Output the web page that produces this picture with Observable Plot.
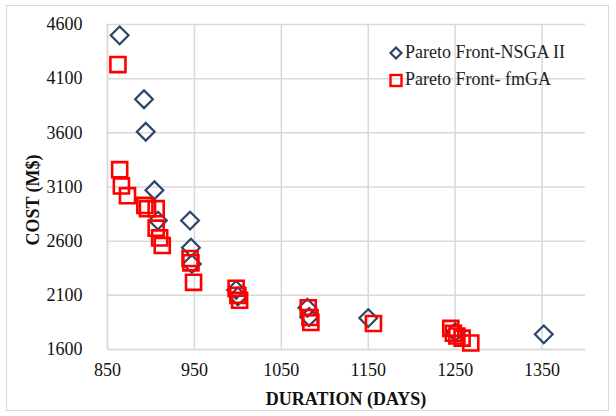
<!DOCTYPE html>
<html>
<head>
<meta charset="utf-8">
<script src="https://cdn.jsdelivr.net/npm/d3@7"></script>
<script src="https://cdn.jsdelivr.net/npm/@observablehq/plot@0.6"></script>
<style>
  html, body { margin: 0; padding: 0; background: #fff; }
  #wrap { position: relative; width: 616px; height: 416px; }
  #frame { position: absolute; left: 6px; top: 5px; width: 603px; height: 406px; border: 1.5px solid #d9d9d9; box-sizing: border-box; pointer-events: none; }
  #legend { position: absolute; left: 388px; top: 39px; font-family: "Liberation Serif", "Times New Roman", serif; font-size: 18px; color: #222; }
  #legend div { display: flex; align-items: center; height: 27px; }
  #legend svg { margin-right: 1px; }
  #chart svg text { font-family: "Liberation Serif", "Times New Roman", serif; }
</style>
</head>
<body>
<div id="wrap">
  <div id="chart"></div>
  <div id="frame"></div>
  <div id="legend">
    <div><svg width="16" height="16"><path d="M8,2.5L13.5,8L8,13.5L2.5,8Z" fill="none" stroke="#2b4566" stroke-width="2.2"/></svg>Pareto Front-NSGA II</div>
    <div><svg width="16" height="16"><rect x="2.5" y="3" width="11" height="11" fill="none" stroke="#ff0000" stroke-width="2.4"/></svg>Pareto Front- fmGA</div>
  </div>
</div>
<script>
const nsgaDuration = [864, 892, 894, 904, 908, 945, 946, 947, 998, 1000, 1080, 1082, 1150, 1250, 1352];
const nsgaCost     = [4500, 3910, 3610, 3070, 2790, 2790, 2540, 2390, 2150, 2090, 1985, 1900, 1890, 1760, 1740];

const fmgaDuration = [862, 864, 866, 873, 893, 896, 906, 906, 910, 913, 945, 946, 949, 998, 1000, 1002, 1081, 1083, 1084, 1156, 1245, 1248, 1252, 1258, 1268];
const fmgaCost     = [4230, 3260, 3110, 3020, 2930, 2900, 2900, 2720, 2630, 2560, 2440, 2400, 2220, 2165, 2100, 2055, 1985, 1895, 1850, 1840, 1795, 1750, 1725, 1705, 1660];

const xTicks = [850, 950, 1050, 1150, 1250, 1350];
const yTicks = [1600, 2100, 2600, 3100, 3600, 4100, 4600];

const nsga = nsgaDuration.map((d, i) => ({duration: d, cost: nsgaCost[i]}));
const fmga = fmgaDuration.map((d, i) => ({duration: d, cost: fmgaCost[i]}));

const serif = "'Liberation Serif', 'Times New Roman', serif";

const chart = Plot.plot({
  width: 616,
  height: 416,
  marginLeft: 107,
  marginRight: 31,
  marginTop: 24,
  marginBottom: 67,
  style: { fontFamily: serif, fontSize: "18px", color: "#111", background: "transparent" },
  x: { domain: [850, 1400], ticks: xTicks, label: null },
  y: { domain: [1600, 4600], ticks: yTicks, label: null },
  marks: [
    Plot.gridX(xTicks, { stroke: "#d9d9d9", strokeOpacity: 1, strokeWidth: 1.5 }),
    Plot.gridY(yTicks, { stroke: "#d9d9d9", strokeOpacity: 1, strokeWidth: 1.5 }),
    Plot.ruleX([850], { stroke: "#d9d9d9", strokeWidth: 1.5 }),
    Plot.ruleY([1600], { stroke: "#d9d9d9", strokeWidth: 1.5 }),
    Plot.axisX(xTicks, { tickSize: 0, tickPadding: 14, fontSize: 18, fontFamily: serif, tickFormat: d => String(d), label: null }),
    Plot.axisY(yTicks, { tickSize: 0, tickPadding: 25, fontSize: 18, fontFamily: serif, tickFormat: d => String(d), label: null }),
    Plot.dot(nsga, { x: "duration", y: "cost", symbol: "diamond2", r: 8, stroke: "#2b4566", strokeWidth: 2.2, fill: "none" }),
    Plot.dot(fmga, { x: "duration", y: "cost", symbol: "square", r: 8.5, stroke: "#ff0000", strokeWidth: 2.6, fill: "none" })
  ]
});

const svg = d3.select(chart);
svg.append("text")
  .attr("x", (107 + 585) / 2).attr("y", 405)
  .attr("text-anchor", "middle")
  .attr("font-weight", "bold").attr("font-size", 18)
  .attr("fill", "#111")
  .text("DURATION (DAYS)");
svg.append("text")
  .attr("transform", "translate(39,200) rotate(-90)")
  .attr("text-anchor", "middle")
  .attr("font-weight", "bold").attr("font-size", 18)
  .attr("fill", "#111")
  .text("COST (M$)");

document.getElementById("chart").appendChild(chart);
</script>
</body>
</html>
